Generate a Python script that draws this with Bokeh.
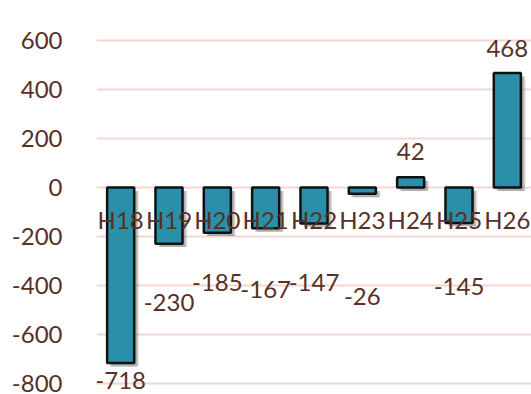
from bokeh.plotting import figure
from bokeh.models import ColumnDataSource, Range1d, FactorRange, FixedTicker
from bokeh.transform import dodge
from bokeh.core.properties import value
from bokeh.embed import file_html
from bokeh.resources import INLINE

categories = ["H18", "H19", "H20", "H21", "H22", "H23", "H24", "H25", "H26"]
values = [-718, -230, -185, -167, -147, -26, 42, -145, 468]
value_labels = ["-718", "-230", "-185", "-167", "-147", "-26", "42", "-145", "468"]
label_offsets = [18, 59, 50, 61, 59, 103, -26, 64, -25]  # screen px, styling
y_ticks = [-800, -600, -400, -200, 0, 200, 400, 600]
y_tick_labels = ["-800", "-600", "-400", "-200", "0", "200", "400", "600"]

TEXT = "#5a2f26"
FONT = "Lato"

src = ColumnDataSource(dict(
    cat=categories,
    val=values,
    zero=[0] * len(values),
    lab=value_labels,
    off=label_offsets,
    sh_top=[v - 14 if v > 0 else -14 for v in values],
    sh_bot=[-14 if v > 0 else v - 14 for v in values],
))

p = figure(width=531, height=394, output_backend="svg", toolbar_location=None,
           x_range=FactorRange(*categories, range_padding=0),
           y_range=Range1d(-847, 765), min_border_left=96, min_border_right=0,
           min_border_top=0, min_border_bottom=0)
p.outline_line_color = None
p.background_fill_color = "white"
p.border_fill_color = "white"

p.xaxis.visible = False
p.xgrid.grid_line_color = None
p.yaxis.ticker = FixedTicker(ticks=y_ticks)
p.yaxis.major_label_overrides = {t: s for t, s in zip(y_ticks, y_tick_labels)}
p.yaxis.axis_line_color = None
p.yaxis.major_tick_line_color = None
p.yaxis.minor_tick_line_color = None
p.yaxis.major_label_standoff = 28
p.yaxis.major_label_text_font = FONT
p.yaxis.major_label_text_font_size = "24px"
p.yaxis.major_label_text_color = TEXT
p.ygrid.ticker = FixedTicker(ticks=y_ticks)
p.ygrid.grid_line_color = "#f2d8cf"
p.ygrid.grid_line_width = 2

# soft drop shadows
for dx, a in [(0.10, 0.12), (0.08, 0.18), (0.06, 0.25)]:
    p.vbar(x=dodge("cat", dx, range=p.x_range), top="sh_top", bottom="sh_bot",
           width=0.56, source=src, fill_color="#555555", fill_alpha=a, line_color=None)

p.vbar(x="cat", top="val", bottom="zero", width=0.56, source=src,
       fill_color="#2a8fa9", line_color="#111111", line_width=2.5)

# category labels drawn on the zero line
p.text(x="cat", y="zero", text="cat", source=src, y_offset=32,
       text_align="center", text_baseline="middle", text_font=value(FONT),
       text_font_size="24px", text_color=TEXT)

# value labels
p.text(x="cat", y="val", text="lab", source=src, y_offset="off",
       text_align="center", text_baseline="middle", text_font=value(FONT),
       text_font_size="24px", text_color=TEXT)

open("out.html", "w").write(file_html(p, INLINE))
